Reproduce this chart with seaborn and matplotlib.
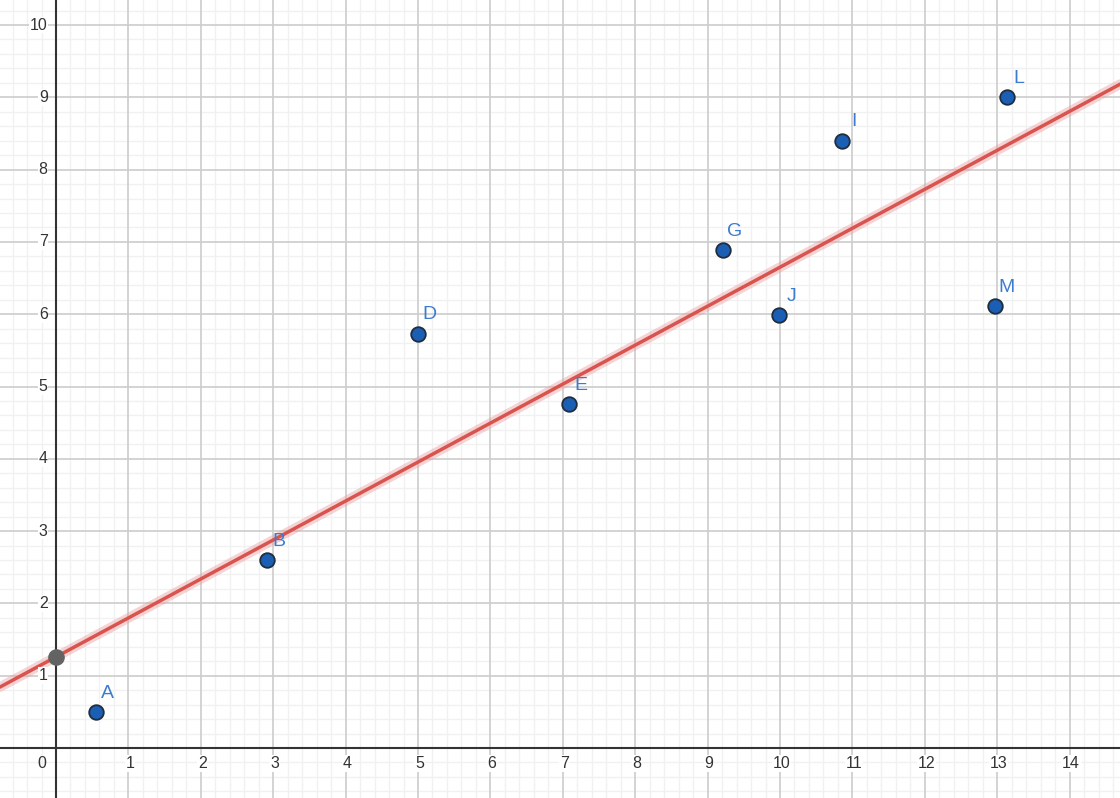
import numpy as np
import pandas as pd
import seaborn as sns
import matplotlib
matplotlib.use('Agg')
import matplotlib.pyplot as plt

# point data
names = ['A', 'B', 'D', 'E', 'G', 'J', 'I', 'L', 'M']
xs = [0.55, 2.91, 5.0, 7.09, 9.21, 9.99, 10.86, 13.14, 12.97]
ys = [0.5, 2.6, 5.73, 4.76, 6.89, 5.99, 8.4, 9.0, 6.11]

# fitted line
intercept = 1.26
slope = 0.539

x_ticks = list(range(1, 15))
y_ticks = list(range(1, 11))

df = pd.DataFrame({'name': names, 'x': xs, 'y': ys})

sns.set_theme(style="white")
plt.rcParams['font.family'] = ['Liberation Sans', 'DejaVu Sans']

fig = plt.figure(figsize=(11.2, 7.98), dpi=100)
ax = fig.add_axes([0, 0, 1, 1])
xmin, xmax = -0.7735, 14.696
ymin, ymax = -0.6916, 10.346
ax.set_xlim(xmin, xmax)
ax.set_ylim(ymin, ymax)

# grid
for v in np.arange(-0.6, 14.8, 0.2):
    if abs(v - round(v)) > 1e-6:
        ax.axvline(v, color='#f1f1f1', lw=1, zorder=0)
for v in np.arange(-0.6, 10.4, 0.2):
    if abs(v - round(v)) > 1e-6:
        ax.axhline(v, color='#f1f1f1', lw=1, zorder=0)
for v in range(0, 15):
    ax.axvline(v, color='#cccccc', lw=1.2, zorder=0.5)
for v in range(0, 11):
    ax.axhline(v, color='#cccccc', lw=1.2, zorder=0.5)
ax.axvline(0, color='#333333', lw=1.5, zorder=1)
ax.axhline(0, color='#333333', lw=1.5, zorder=1)

# regression line
line_x = np.array([xmin, xmax])
line_df = pd.DataFrame({'x': line_x, 'y': intercept + slope * line_x})
sns.lineplot(data=line_df, x='x', y='y', ax=ax, color='#e8a0a0', lw=7, alpha=0.45, zorder=2)
sns.lineplot(data=line_df, x='x', y='y', ax=ax, color='#d9534f', lw=2.5, zorder=3)
ax.scatter([0], [intercept], s=120, color='#636363', zorder=4)

# points
sns.scatterplot(data=df, x='x', y='y', ax=ax, s=110, color='#1a5fb4',
                edgecolor='#1f2d3d', linewidth=1.3, zorder=5)
for _, r in df.iterrows():
    ax.annotate(r['name'], (r['x'], r['y']), xytext=(8.5, 13.5), textcoords='offset points',
                ha='center', va='center', fontsize=14, color='#3c7ccf', zorder=6)

# tick labels
for t in x_ticks:
    ax.annotate(str(t), (t, 0), xytext=(1, -11), textcoords='offset points',
                ha='center', va='center', fontsize=11.5, color='#333333',
                bbox=dict(boxstyle='square,pad=0.05', fc='white', ec='none'), zorder=3)
for t in y_ticks:
    ax.annotate(str(t), (0, t), xytext=(-6, 0), textcoords='offset points',
                ha='right', va='center', fontsize=11.5, color='#333333',
                bbox=dict(boxstyle='square,pad=0.05', fc='white', ec='none'), zorder=3)
ax.annotate('0', (0, 0), xytext=(-10, -11), textcoords='offset points',
            ha='center', va='center', fontsize=11.5, color='#333333', zorder=3)

ax.set_xlabel('')
ax.set_ylabel('')
ax.set_xticks([])
ax.set_yticks([])
for s in ax.spines.values():
    s.set_visible(False)

fig.savefig('out.png', dpi=100)
